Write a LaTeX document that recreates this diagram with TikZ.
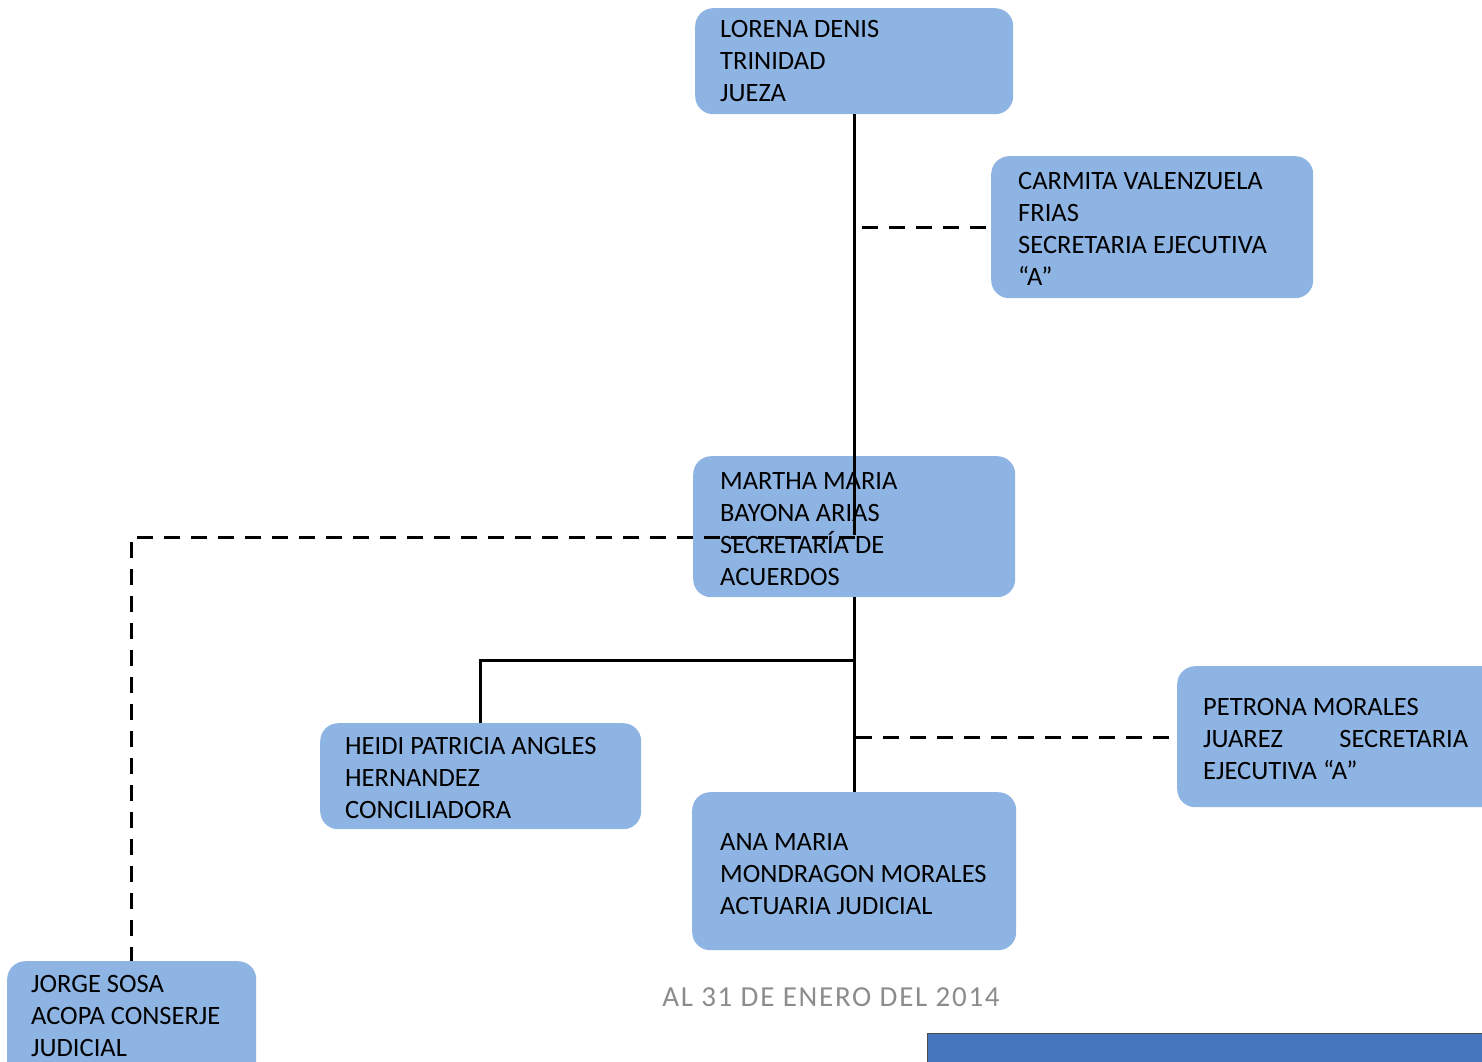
\documentclass[tikz,border=0pt]{standalone}
\usepackage{fontspec}
\setmainfont{Carlito}
\definecolor{boxblue}{HTML}{8EB4E3}
\definecolor{barblue}{HTML}{4677BE}
\definecolor{dategray}{HTML}{8C8C8C}
\begin{document}
\begin{tikzpicture}[x=1pt,y=-1pt,
  orgbox/.style={draw=none,fill=boxblue,rounded corners=18pt,anchor=north west,inner sep=0pt},
  orgtext/.style={anchor=base west,inner sep=0pt,font=\fontsize{26.5}{32}\selectfont},
  solidline/.style={line width=3pt},
  dashline/.style={line width=3pt,dash pattern=on 16pt off 11pt}]
\useasboundingbox (0,0) rectangle (1482,1062);
\clip (0,0) rectangle (1482,1062);
% boxes
\node[orgbox,minimum width=318pt,minimum height=106pt] (lorena) at (695,8) {};
\node[orgbox,minimum width=322pt,minimum height=142pt] (carmita) at (991,156) {};
\node[orgbox,minimum width=322pt,minimum height=141pt] (martha) at (693,456) {};
\node[orgbox,minimum width=321pt,minimum height=106pt] (heidi) at (320,723) {};
\node[orgbox,minimum width=324pt,minimum height=158pt] (ana) at (692,792) {};
\node[orgbox,minimum width=330pt,minimum height=141pt] (petrona) at (1177,666) {};
\node[orgbox,minimum width=249pt,minimum height=130pt] (jorge) at (7,961) {};
\node[draw=black!70,line width=1pt,fill=barblue,anchor=north west,inner sep=0pt,minimum width=600pt,minimum height=60pt] (bar) at (927,1033) {};
% connectors
\coordinate (mjoin) at (854,535);
\coordinate (hjoin) at (854,660);
\coordinate (cjoin) at (862,227);
\coordinate (pjoin) at (856,737);
\coordinate (jstart) at (855,537);
\draw[solidline] (lorena.south -| mjoin) -- (mjoin);
\draw[solidline] (martha.south -| mjoin) -- (ana.north -| mjoin);
\draw[solidline] (hjoin) -| (heidi.north);
\draw[dashline] (cjoin) -- (cjoin -| carmita.west);
\draw[dashline] (pjoin) -- (pjoin -| petrona.west);
\draw[dashline] (jstart) -- (131,537) -- (jorge.north -| 131,0);
% texts
\node[orgtext] (tlorena) at (720,38) {\parbox[t]{300pt}{LORENA DENIS\\TRINIDAD\\JUEZA}};
\node[orgtext] (tcarmita) at (1018,189) {\parbox[t]{300pt}{CARMITA VALENZUELA\\FRIAS\\SECRETARIA EJECUTIVA\\“A”}};
\node[orgtext] (tmartha) at (720,489) {\parbox[t]{300pt}{MARTHA MARIA\\BAYONA ARIAS\\SECRETARÍA DE\\ACUERDOS}};
\node[orgtext] (theidi) at (345,754) {\parbox[t]{300pt}{HEIDI PATRICIA ANGLES\\HERNANDEZ\\CONCILIADORA}};
\node[orgtext] (tana) at (720,850) {\parbox[t]{300pt}{ANA MARIA\\MONDRAGON MORALES\\ACTUARIA JUDICIAL}};
\node[orgtext] (tpetrona) at (1203,715) {\parbox[t]{300pt}{PETRONA MORALES\\\hbox to 265pt{JUAREZ\hfill SECRETARIA}\\EJECUTIVA “A”}};
\node[orgtext] (tjorge) at (31,992) {\parbox[t]{300pt}{JORGE SOSA\\ACOPA CONSERJE\\JUDICIAL}};
\node[anchor=base,inner sep=0pt,text=dategray,font=\fontsize{29}{32}\selectfont\addfontfeatures{LetterSpace=6}] (date) at (831,1006) {AL 31 DE ENERO DEL 2014};
\end{tikzpicture}
\end{document}
